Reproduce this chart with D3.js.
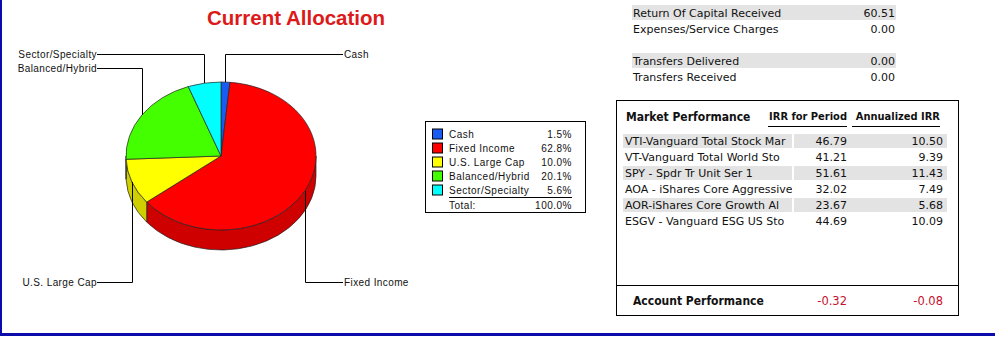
<!DOCTYPE html>
<html>
<head>
<meta charset="utf-8">
<script src="https://cdn.jsdelivr.net/npm/d3@7"></script>
<style>
  body { margin: 0; background: #fff; }
  svg { display: block; }
</style>
</head>
<body>
<div id="chart"></div>
<script>
// allocation pie
const categories = ['Cash', 'Fixed Income', 'U.S. Large Cap', 'Balanced/Hybrid', 'Sector/Specialty'];
const allocation = [1.5, 62.8, 10.0, 20.1, 5.6];
const sliceColors = ['#1a5cf2', '#ff0000', '#ffff00', '#44ff00', '#00ffff'];

// summary rows top right (blank label = spacer row)
const summaryLabels = ['Return Of Capital Received', 'Expenses/Service Charges', '', 'Transfers Delivered', 'Transfers Received'];
const summaryValues = [60.51, 0.00, null, 0.00, 0.00];

// market performance table
const funds = [
  'VTI-Vanguard Total Stock Mar',
  'VT-Vanguard Total World Sto',
  'SPY - Spdr Tr Unit Ser 1',
  'AOA - iShares Core Aggressive',
  'AOR-iShares Core Growth Al',
  'ESGV - Vanguard ESG US Sto'
];
const irrPeriod = [46.79, 41.21, 51.61, 32.02, 23.67, 44.69];
const irrAnnualized = [10.50, 9.39, 11.43, 7.49, 5.68, 10.09];
const accountIrr = [-0.32, -0.08];

const W = 995, H = 357;
const body = 'DejaVu Sans, Verdana, sans-serif';
const boldFont = 'DejaVu Sans Condensed, DejaVu Sans, sans-serif';
const small = 'Liberation Sans, Arial, sans-serif';
const locale = d3.formatLocale({ decimal: '.', thousands: ',', grouping: [3], currency: ['$', ''], minus: '-' });
const fmt = locale.format('.2f');

const svg = d3.select('#chart').append('svg')
  .attr('width', W)
  .attr('height', H);

// blue page frame
svg.append('rect').attr('x', 0).attr('y', 0).attr('width', 2).attr('height', 336).attr('fill', '#0c0caa');
svg.append('rect').attr('x', 0).attr('y', 333).attr('width', W).attr('height', 3).attr('fill', '#0c0caa');

// title
svg.append('text')
  .attr('x', 296).attr('y', 25)
  .attr('text-anchor', 'middle')
  .attr('font-family', small)
  .attr('font-weight', 'bold')
  .attr('font-size', 20.5)
  .attr('fill', '#dc1a1a')
  .text('Current Allocation');

// ---- pseudo 3d pie ----
const cx = 221, cy = 156, rx = 95, ry = 74, depth = 20;
const pt = (a, dy = 0) => [cx + rx * Math.sin(a), cy - ry * Math.cos(a) + dy];
const arcs = d3.pie().sort(null).value(d => d)(allocation);

const sidePath = d => {
  const s = Math.max(d.startAngle, Math.PI / 2);
  const e = Math.min(d.endAngle, 3 * Math.PI / 2);
  if (e <= s) return null;
  return `M${pt(s)}A${rx},${ry} 0 0 1 ${pt(e)}L${pt(e, depth)}A${rx},${ry} 0 0 0 ${pt(s, depth)}Z`;
};
const topPath = d => {
  const large = d.endAngle - d.startAngle > Math.PI ? 1 : 0;
  return `M${cx},${cy}L${pt(d.startAngle)}A${rx},${ry} 0 ${large} 1 ${pt(d.endAngle)}Z`;
};

const pieG = svg.append('g');

pieG.selectAll('path.side')
  .data(arcs.filter(d => sidePath(d)))
  .join('path')
  .attr('class', 'side')
  .attr('d', sidePath)
  .attr('fill', d => d3.rgb(sliceColors[d.index]).darker(0.6))
  .attr('stroke', '#222')
  .attr('stroke-width', 0.7);

pieG.selectAll('path.top')
  .data(arcs)
  .join('path')
  .attr('class', 'top')
  .attr('d', topPath)
  .attr('fill', d => sliceColors[d.index])
  .attr('stroke', '#222')
  .attr('stroke-width', 0.7);

// leader lines + labels
const labels = arcs.map(d => {
  const mid = (d.startAngle + d.endAngle) / 2;
  return { index: d.index, mid, p: pt(mid), right: Math.sin(mid) >= 0, top: Math.cos(mid) > 0 };
});
[true, false].forEach(right => {
  labels.filter(l => l.right === right && l.top)
    .sort((a, b) => Math.cos(b.mid) - Math.cos(a.mid))
    .forEach((l, k) => { l.y = 54.5 + k * 14; });
  labels.filter(l => l.right === right && !l.top)
    .sort((a, b) => Math.cos(a.mid) - Math.cos(b.mid))
    .forEach((l, k) => { l.y = 282.5 - k * 14; });
});

const labelG = svg.append('g');
labelG.selectAll('polyline')
  .data(labels)
  .join('polyline')
  .attr('points', l => {
    const x = Math.round(l.p[0]) + 0.5;
    const lx = l.right ? 343 : 97;
    return [[x, l.p[1]], [x, l.y], [lx, l.y]].join(' ');
  })
  .attr('fill', 'none')
  .attr('stroke', '#000')
  .attr('stroke-width', 1);

labelG.selectAll('text')
  .data(labels)
  .join('text')
  .attr('x', l => l.right ? 344 : 97)
  .attr('y', l => l.y + 3.5)
  .attr('text-anchor', l => l.right ? 'start' : 'end')
  .attr('font-family', small)
  .attr('font-size', 10)
  .attr('letter-spacing', 0.4)
  .attr('fill', '#111')
  .text(l => categories[l.index]);

// ---- legend ----
const legendY = d3.scaleLinear().domain([0, 1]).range([134.5, 148.5]);
const legend = svg.append('g');
legend.append('rect')
  .attr('x', 425.5).attr('y', 121.5)
  .attr('width', 160).attr('height', 91)
  .attr('fill', '#fff').attr('stroke', '#000');

const rows = legend.selectAll('g.row')
  .data(allocation)
  .join('g')
  .attr('class', 'row')
  .attr('transform', (d, i) => `translate(0,${legendY(i)})`);
rows.append('rect')
  .attr('x', 432.5).attr('y', -5.5)
  .attr('width', 10).attr('height', 10)
  .attr('fill', (d, i) => sliceColors[i])
  .attr('stroke', '#000');
rows.append('text')
  .attr('x', 449).attr('y', 3.5)
  .attr('font-family', small).attr('font-size', 10).attr('letter-spacing', 0.5)
  .attr('fill', '#111')
  .text((d, i) => categories[i]);
rows.append('text')
  .attr('x', 572).attr('y', 3.5)
  .attr('text-anchor', 'end')
  .attr('font-family', small).attr('font-size', 10).attr('letter-spacing', 0.5)
  .attr('fill', '#111')
  .text(d => d3.format('.1f')(d) + '%');

legend.append('line')
  .attr('x1', 449).attr('x2', 572)
  .attr('y1', 197.5).attr('y2', 197.5)
  .attr('stroke', '#000');
legend.append('text')
  .attr('x', 449).attr('y', 208.5)
  .attr('font-family', small).attr('font-size', 10).attr('letter-spacing', 0.5)
  .attr('fill', '#111')
  .text('Total:');
legend.append('text')
  .attr('x', 572).attr('y', 208.5)
  .attr('text-anchor', 'end')
  .attr('font-family', small).attr('font-size', 10).attr('letter-spacing', 0.5)
  .attr('fill', '#111')
  .text(d3.format('.1f')(d3.sum(allocation)) + '%');

// ---- summary rows ----
const sumY = d3.scaleBand().domain(d3.range(summaryLabels.length)).range([4.5, 84.5]);
const sumG = svg.append('g');
sumG.selectAll('rect')
  .data([0, 3])
  .join('rect')
  .attr('x', 632).attr('y', i => sumY(i) + 0.5)
  .attr('width', 264).attr('height', 15)
  .attr('fill', '#e3e3e3');
const sumRows = sumG.selectAll('g')
  .data(summaryLabels.map((label, i) => ({ label, value: summaryValues[i], i })).filter(d => d.label))
  .join('g')
  .attr('transform', d => `translate(0,${sumY(d.i) + 12})`);
sumRows.append('text')
  .attr('x', 633)
  .attr('font-family', body).attr('font-size', 11).attr('fill', '#111')
  .text(d => d.label);
sumRows.append('text')
  .attr('x', 895).attr('text-anchor', 'end')
  .attr('font-family', body).attr('font-size', 11).attr('fill', '#111')
  .text(d => fmt(d.value));

// ---- market performance box ----
const mkt = svg.append('g');
mkt.append('rect')
  .attr('x', 616.5).attr('y', 100.5)
  .attr('width', 342).attr('height', 215)
  .attr('fill', '#fff').attr('stroke', '#000');
mkt.append('line')
  .attr('x1', 616.5).attr('x2', 958.5)
  .attr('y1', 285.5).attr('y2', 285.5)
  .attr('stroke', '#000');

mkt.append('text')
  .attr('x', 626).attr('y', 121)
  .attr('font-family', boldFont).attr('font-weight', 'bold').attr('font-size', 12)
  .attr('fill', '#111')
  .text('Market Performance');
const colRight = [847, 943];
const headers = ['IRR for Period', 'Annualized IRR'];
const underline = [[768, 847], [852, 940]];
headers.forEach((h, i) => {
  mkt.append('text')
    .attr('x', i === 0 ? 847 : 940).attr('y', 120)
    .attr('text-anchor', 'end')
    .attr('font-family', boldFont).attr('font-weight', 'bold').attr('font-size', 11)
    .attr('fill', '#111')
    .text(h);
  mkt.append('line')
    .attr('x1', underline[i][0]).attr('x2', underline[i][1])
    .attr('y1', 126.5).attr('y2', 126.5)
    .attr('stroke', '#000');
});

const rowY = d3.scaleBand().domain(d3.range(funds.length)).range([133.5, 229.5]);
// name column is cut at its width, in row-local coordinates
svg.append('clipPath').attr('id', 'nameClip')
  .append('rect').attr('x', 623).attr('y', 0).attr('width', 169).attr('height', 16);

const fundRows = mkt.selectAll('g.fund')
  .data(funds)
  .join('g')
  .attr('class', 'fund')
  .attr('transform', (d, i) => `translate(0,${rowY(i)})`);
fundRows.filter((d, i) => i % 2 === 0).append('rect')
  .attr('x', 623).attr('y', 0.5).attr('width', 169).attr('height', 14)
  .attr('fill', '#e3e3e3');
fundRows.filter((d, i) => i % 2 === 0).append('rect')
  .attr('x', 794).attr('y', 0.5).attr('width', 153).attr('height', 14)
  .attr('fill', '#e3e3e3');
fundRows.append('text')
  .attr('x', 625).attr('y', 11.5)
  .attr('clip-path', 'url(#nameClip)')
  .attr('font-family', body).attr('font-size', 11).attr('fill', '#111')
  .text(d => d);
fundRows.append('text')
  .attr('x', colRight[0]).attr('y', 11.5).attr('text-anchor', 'end')
  .attr('font-family', body).attr('font-size', 11).attr('fill', '#111')
  .text((d, i) => fmt(irrPeriod[i]));
fundRows.append('text')
  .attr('x', colRight[1]).attr('y', 11.5).attr('text-anchor', 'end')
  .attr('font-family', body).attr('font-size', 11).attr('fill', '#111')
  .text((d, i) => fmt(irrAnnualized[i]));

mkt.append('text')
  .attr('x', 633).attr('y', 305)
  .attr('font-family', boldFont).attr('font-weight', 'bold').attr('font-size', 12)
  .attr('fill', '#111')
  .text('Account Performance');
mkt.selectAll('text.acct')
  .data(accountIrr)
  .join('text')
  .attr('class', 'acct')
  .attr('x', (d, i) => colRight[i]).attr('y', 305)
  .attr('text-anchor', 'end')
  .attr('font-family', body).attr('font-size', 11.5)
  .attr('fill', '#c8102e')
  .text(d => fmt(d));
</script>
</body>
</html>
